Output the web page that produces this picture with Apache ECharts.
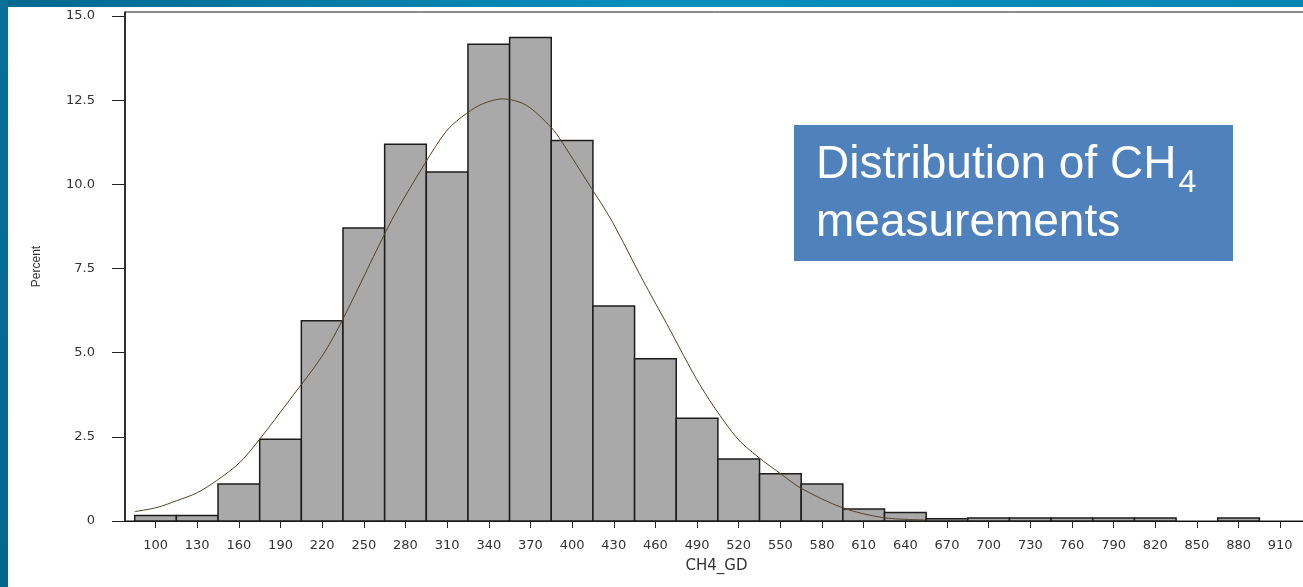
<!DOCTYPE html>
<html><head><meta charset="utf-8">
<script src="https://cdn.jsdelivr.net/npm/echarts@6/dist/echarts.min.js"></script>
<style>html,body{margin:0;padding:0;background:#fff;overflow:hidden}#c{width:1303px;height:587px}</style>
</head><body><div id="c"></div>
<script>
// ---- data ----
const binCenters = [100,130,160,190,220,250,280,310,340,370,400,430,460,490,520,550,580,610,640,670,700,730,760,790,820,850,880,910];
const percentValues = [0.16,0.16,1.10,2.43,5.95,8.70,11.19,10.37,14.16,14.36,11.30,6.39,4.82,3.05,1.84,1.40,1.10,0.36,0.25,0.07,0.09,0.09,0.09,0.09,0.09,0,0.09,0];
const curveX = [85,101,115,130,144,161,175,197,220,235,270,294,310,324,336,350,367,385,392,414,428,451,468,493,518,534,550,565,595,624,655];
const curveY = [0.28,0.40,0.60,0.84,1.20,1.75,2.43,3.62,4.90,6.00,8.93,10.62,11.61,12.11,12.40,12.54,12.35,11.69,11.30,9.88,8.96,7.15,5.87,3.98,2.50,1.90,1.41,0.97,0.39,0.10,0.03];
const xTickValues = binCenters;
const xTickLabels = ['100','130','160','190','220','250','280','310','340','370','400','430','460','490','520','550','580','610','640','670','700','730','760','790','820','850','880','910'];
const yTickValues = [0,2.5,5,7.5,10,12.5,15];
const yTickLabels = ['0','2.5','5.0','7.5','10.0','12.5','15.0'];
const binWidth = 30;
const xName = 'CH4_GD';
const yName = 'Percent';
const boxLine1 = 'Distribution of CH';
const boxSub = '4';
const boxLine2 = 'measurements';

// ---- layout helpers ----
const boxFont = '46px "Liberation Sans", Arial, sans-serif';
const mctx = document.createElement('canvas').getContext('2d');
mctx.font = boxFont;
const line1W = mctx.measureText(boxLine1).width;

const chart = echarts.init(document.getElementById('c'), null, {renderer:'canvas'});
const labelColor = '#333';
const axisColor = '#111';

chart.setOption({
  animation: false,
  backgroundColor: '#ffffff',
  grid: {left:125, top:12, width:1183, height:509, outerBoundsMode:'none', containLabel:false,
    show:true, borderColor:'#1a1a1a', borderWidth:1, backgroundColor:'transparent'},
  xAxis: {
    type:'value', min:78, max:930,
    name: xName, nameLocation:'middle', nameGap:38,
    nameTextStyle:{color:labelColor, fontSize:15, fontFamily:'DejaVu Sans'},
    axisLine:{show:true, onZero:false, lineStyle:{color:axisColor, width:1}},
    axisTick:{show:true, length:7, customValues: xTickValues, lineStyle:{color:'#222', width:1}},
    axisLabel:{customValues: xTickValues, margin:18, color:labelColor, fontSize:13, fontFamily:'DejaVu Sans',
      formatter: v => { const i = xTickValues.indexOf(v); return i >= 0 ? xTickLabels[i] : ''; }},
    splitLine:{show:false}
  },
  yAxis: {
    type:'value', min:0, max:15.12,
    name: yName, nameLocation:'middle', nameGap:82,
    nameTextStyle:{color:labelColor, fontSize:12, fontFamily:'Liberation Sans'},
    axisLine:{show:true, lineStyle:{color:axisColor, width:1.5}},
    axisTick:{show:true, length:13, customValues: yTickValues, lineStyle:{color:'#222', width:1}},
    axisLabel:{customValues: yTickValues, margin:30, color:labelColor, fontSize:13, fontFamily:'DejaVu Sans',
      formatter: v => { const i = yTickValues.indexOf(v); return i >= 0 ? yTickLabels[i] : ''; }},
    splitLine:{show:false}
  },
  series: [
    {
      type:'custom', name:'bars', z:2,
      data: binCenters.map((c,i)=>[c, percentValues[i]]),
      encode:{x:0, y:1},
      renderItem: (params, api) => {
        const c = api.value(0), v = api.value(1);
        if (!v) return null;
        const p0 = api.coord([c - binWidth/2, v]);
        const p1 = api.coord([c + binWidth/2, 0]);
        return {type:'rect', shape:{x:p0[0], y:p0[1], width:p1[0]-p0[0], height:p1[1]-p0[1]},
          style:{fill:'#a9a9a9', stroke:'#1c1c1c', lineWidth:1.5}};
      }
    },
    {
      type:'line', name:'normal', z:5, smooth:0.3, showSymbol:false, symbol:'none',
      data: curveX.map((x,i)=>[x, curveY[i]]),
      lineStyle:{color:'#54422a', width:1}
    }
  ],
  graphic: [
    {type:'rect', z:-1, silent:true, shape:{x:0,y:0,width:1303,height:7},
      style:{fill:{type:'linear',x:0,y:0,x2:1,y2:0,colorStops:[{offset:0,color:'#05688f'},{offset:0.5,color:'#0a8fbd'},{offset:1,color:'#0787b3'}]}}},
    {type:'rect', z:-1, silent:true, shape:{x:0,y:0,width:8,height:587},
      style:{fill:{type:'linear',x:0,y:0,x2:0,y2:1,colorStops:[{offset:0,color:'#06709a'},{offset:1,color:'#04668d'}]}}},
    {type:'rect', z:100, silent:true, shape:{x:794,y:125,width:439,height:136}, style:{fill:'#4f81bd'}},
    {type:'text', z:101, silent:true, x:816, y:165, style:{text:boxLine1, fill:'#fff', font:boxFont, verticalAlign:'middle', align:'left'}},
    {type:'text', z:101, silent:true, x:816 + line1W + 2, y:183, style:{text:boxSub, fill:'#fff', font:'32px "Liberation Sans", Arial, sans-serif', verticalAlign:'middle', align:'left'}},
    {type:'text', z:101, silent:true, x:816, y:223, style:{text:boxLine2, fill:'#fff', font:boxFont, verticalAlign:'middle', align:'left'}}
  ]
});
</script>
</body></html>
